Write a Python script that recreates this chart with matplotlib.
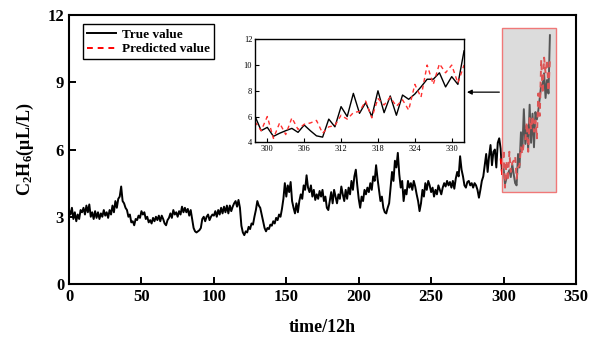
import numpy as np
import matplotlib
matplotlib.use('Agg')
import matplotlib.pyplot as plt
from matplotlib.patches import Rectangle

plt.rcParams['font.family'] = ['Liberation Serif', 'DejaVu Serif']
plt.rcParams['mathtext.fontset'] = 'custom'
plt.rcParams['mathtext.rm'] = 'Liberation Serif'
plt.rcParams['mathtext.bf'] = 'Liberation Serif:bold'
plt.rcParams['mathtext.default'] = 'bf'

# история (обучающая часть), шаг 12 ч, индексы 0..297
history = [
    3.3, 3.1, 3.4, 2.9, 3.2, 2.8, 3.1, 2.9, 3.3, 3.2,
    3.4, 3.1, 3.5, 3.2, 3.55, 3.0, 3.2, 2.9, 3.25, 2.95,
    3.2, 2.9, 3.15, 3.0, 3.3, 3.05, 3.2, 2.95, 3.3, 3.1,
    3.5, 3.2, 3.7, 3.4, 3.8, 3.9, 4.35, 3.7, 3.6, 3.4,
    3.3, 3.0, 3.1, 2.75, 2.8, 2.62, 2.9, 2.85, 3.05, 2.95,
    3.25, 3.1, 3.2, 2.9, 3.0, 2.75, 2.85, 2.7, 2.95, 2.8,
    3.0, 2.85, 3.05, 2.8, 3.05, 2.9, 2.7, 2.62, 2.85, 2.95,
    3.15, 2.95, 3.3, 3.1, 3.2, 3.0, 3.25, 3.1, 3.45, 3.2,
    3.4, 3.2, 3.35, 3.05, 3.3, 2.9, 2.5, 2.35, 2.3, 2.35,
    2.4, 2.5, 2.9, 3.0, 2.8, 3.0, 3.1, 2.85, 3.0, 3.1,
    3.05, 3.25, 3.0, 3.3, 3.1, 3.4, 3.15, 3.45, 3.2, 3.5,
    3.15, 3.5, 3.25, 3.45, 3.6, 3.7, 3.45, 3.75, 3.4, 2.6,
    2.3, 2.18, 2.35, 2.3, 2.55, 2.45, 2.7, 2.65, 3.0, 3.3,
    3.7, 3.5, 3.4, 3.1, 2.8, 2.5, 2.35, 2.5, 2.45, 2.65,
    2.6, 2.8, 2.7, 2.95, 2.85, 3.1, 3.0, 3.35, 3.8, 4.5,
    3.9, 4.4, 4.1, 4.55, 3.7, 3.4, 3.15, 3.6, 3.2, 3.7,
    4.0, 3.8, 4.4, 4.2, 4.85, 4.3, 4.1, 4.4, 3.9, 4.2,
    3.75, 4.0, 3.8, 4.15, 3.9, 4.2, 3.7, 3.9, 3.4, 3.3,
    3.7, 4.1, 3.6, 4.2, 3.9, 3.6, 4.0, 3.8, 4.35, 4.0,
    3.7, 4.2, 3.8, 4.3, 4.0, 4.6, 4.2, 4.8, 5.1, 4.4,
    3.8, 3.4, 3.9, 3.7, 4.2, 4.0, 4.3, 4.1, 4.5, 4.2,
    4.8, 4.6, 5.3, 4.7, 4.2, 3.7, 3.9, 3.4, 3.2, 3.15,
    3.4, 3.6, 4.3, 5.0, 4.6, 5.5, 5.2, 5.85, 4.9, 4.3,
    4.6, 3.7, 4.2, 4.0, 4.6, 4.3, 4.5, 4.2, 4.6, 4.35,
    4.0, 3.7, 3.25, 3.6, 4.2, 3.9, 4.5, 4.2, 4.6, 4.4,
    4.1, 4.3, 3.9, 4.2, 4.0, 4.4, 4.2, 4.0, 4.3, 4.5,
    4.35, 4.6, 4.4, 4.55, 4.3, 4.6, 4.25, 4.7, 5.0, 4.8,
    5.7, 5.1, 4.8, 4.4, 4.3, 4.55, 4.6, 4.4, 4.5, 4.3,
    4.5, 4.4, 4.2, 3.85, 4.2, 4.6, 4.8, 5.3, 5.8, 5.0,
    5.7, 6.2, 5.3, 5.9, 6.0, 5.2, 6.3, 6.5,
]

# тестовая часть, индексы 298..332
test_true = [
    6.04, 4.9, 5.16, 4.46, 4.7, 4.9, 5.08, 4.77, 5.34, 4.9,
    4.5, 4.4, 5.8, 5.2, 6.77, 6.0, 7.8, 6.25, 7.08, 6.0,
    8.0, 6.3, 7.6, 6.1, 7.67, 7.34, 7.75, 8.3, 8.9, 8.9,
    9.4, 8.3, 9.1, 8.5, 11.1,
]
test_pred = [
    5.6, 4.9, 6.0, 4.3, 5.5, 4.6, 5.9, 5.0, 5.4, 5.5,
    5.7, 4.7, 5.2, 5.3, 6.1, 5.8, 6.3, 6.4, 7.2, 5.9,
    7.4, 6.9, 7.5, 6.8, 7.3, 6.5, 8.5, 7.5, 10.0, 8.5,
    10.1, 9.4, 10.0, 8.6, 10.0,
]

x_hist = np.arange(len(history))
x_test = np.arange(len(history), len(history) + len(test_true))
x_all = np.concatenate([x_hist, x_test])
y_all = np.array(history + test_true)

fig = plt.figure(figsize=(5.93, 3.42), dpi=100)
ax = fig.add_axes([0.1164, 0.1696, 0.8549, 0.7864])

ax.plot(x_all, y_all, color='black', lw=1.4, label='True value')
ax.plot(x_test, test_pred, color='red', lw=1.4, ls=(0, (3, 2.5)), label='Predicted value')

# серая рамка с увеличиваемым участком
ax.add_patch(Rectangle((299, 4.1), 37, 7.3, facecolor='#b6b6b6', alpha=0.47,
                       edgecolor='none', zorder=5))
ax.add_patch(Rectangle((299, 4.1), 37, 7.3, facecolor='none',
                       edgecolor='#f07878', lw=1.0, zorder=6))

ax.set_xlim(0, 350)
ax.set_ylim(0, 12)
ax.set_xticks(range(0, 351, 50))
ax.set_yticks(range(0, 13, 3))
ax.tick_params(direction='in', length=5, width=1.4, labelsize=12)
for lab in ax.get_xticklabels() + ax.get_yticklabels():
    lab.set_fontweight('bold')
for sp in ax.spines.values():
    sp.set_linewidth(1.5)
ax.set_xlabel('time/12h', fontsize=13, fontweight='bold', labelpad=10)
ax.set_ylabel('C$_2$H$_6$(μL/L)', fontsize=13, fontweight='bold', labelpad=8)

leg = ax.legend(loc='upper left', bbox_to_anchor=(0.014, 0.99), fancybox=False,
                edgecolor='black', framealpha=1, handlelength=2.2,
                borderpad=0.3, labelspacing=0.2, handletextpad=0.5,
                prop={'weight': 'bold', 'size': 9.5})
leg.get_frame().set_linewidth(1.0)

# стрелка к врезке
ax.annotate('', xy=(272.8, 8.56), xytext=(299, 8.56),
            arrowprops=dict(arrowstyle='-|>', color='black', lw=0.9,
                            mutation_scale=7))

# врезка
ins = fig.add_axes([0.430, 0.584, 0.3525, 0.301])
ins.plot(x_test, test_true, color='black', lw=1.0)
ins.plot(x_test, test_pred, color='#ff3030', lw=1.0, ls=(0, (3, 2.5)))
ins.set_xlim(298, 332)
ins.set_ylim(4, 12)
ins.set_xticks(range(300, 331, 6))
ins.set_yticks(range(4, 13, 2))
ins.tick_params(direction='in', length=3, width=0.8, labelsize=6, pad=2)
for sp in ins.spines.values():
    sp.set_linewidth(1.0)

fig.savefig('out.png', dpi=100)
